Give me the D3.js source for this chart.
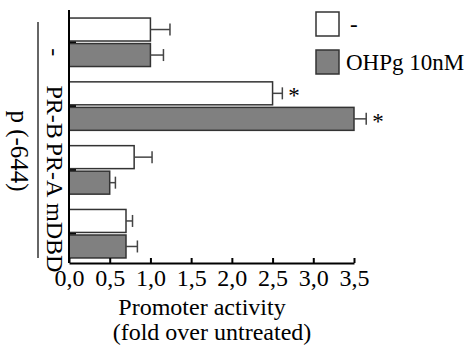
<!DOCTYPE html>
<html>
<head>
<meta charset="utf-8">
<script src="https://cdn.jsdelivr.net/npm/d3@7/dist/d3.min.js"></script>
<style>
  html, body { margin: 0; padding: 0; background: #fff; }
  svg { display: block; }
  text { font-family: "Liberation Serif", "Times New Roman", serif; fill: #000; }
</style>
</head>
<body>
<script>
// Constructs (one group of bars each) and treatments
const categories = ["-", "PR-B", "PR-A", "mDBD"];
const series = ["-", "OHPg 10nM"];

// Promoter activity (fold over untreated) per construct, untreated / OHPg
const valuesUntreated = [1.0, 2.5, 0.8, 0.7];
const valuesOHPg      = [1.0, 3.5, 0.5, 0.7];
const errUntreated    = [0.24, 0.12, 0.22, 0.08];
const errOHPg         = [0.16, 0.15, 0.07, 0.14];
const signifUntreated = [false, true, false, false];
const signifOHPg      = [false, true, false, false];

const xTickValues = [0, 0.5, 1.0, 1.5, 2.0, 2.5, 3.0, 3.5];
const xTickLabels = ["0,0", "0,5", "1,0", "1,5", "2,0", "2,5", "3,0", "3,5"];

const groupLabel = "p (-644)";
const xTitle1 = "Promoter activity";
const xTitle2 = "(fold over untreated)";

const fills = ["#ffffff", "#808080"];

const W = 468, H = 345;
const svg = d3.select("body").append("svg").attr("width", W).attr("height", H);

const axisTop = 10, axisBottom = 263;
const x = d3.scaleLinear().domain([0, 3.5]).range([69, 354]);
const y = d3.scaleBand().domain(categories).range([10, 266])
  .paddingInner(0.24).paddingOuter(0.126);
const ySub = d3.scaleBand().domain(series).range([0, y.bandwidth()]).paddingInner(0.1);

const rows = categories.map((c, i) => [
  { cat: c, s: series[0], v: valuesUntreated[i], e: errUntreated[i], sig: signifUntreated[i], fill: fills[0] },
  { cat: c, s: series[1], v: valuesOHPg[i], e: errOHPg[i], sig: signifOHPg[i], fill: fills[1] }
]).flat();

// category ticks on the value axis (point inward, partly hidden by bars)
const yAxis = d3.axisLeft(y).tickSizeInner(-7).tickSizeOuter(0).tickFormat("");
const gy = svg.append("g").attr("transform", `translate(${x(0)},0)`).call(yAxis);
gy.select(".domain").remove();
gy.selectAll(".tick line").attr("stroke", "#000").attr("stroke-width", 2.2);

// bars
svg.append("g").selectAll("rect").data(rows).join("rect")
  .attr("x", x(0))
  .attr("y", d => y(d.cat) + ySub(d.s))
  .attr("width", d => x(d.v) - x(0))
  .attr("height", ySub.bandwidth())
  .attr("fill", d => d.fill)
  .attr("stroke", "#333")
  .attr("stroke-width", 1.5);

// error bars
const eb = svg.append("g").attr("stroke", "#444").attr("stroke-width", 1.5);
rows.forEach(d => {
  const cy = y(d.cat) + ySub(d.s) + ySub.bandwidth() / 2;
  eb.append("line").attr("x1", x(d.v)).attr("x2", x(d.v + d.e)).attr("y1", cy).attr("y2", cy);
  eb.append("line").attr("x1", x(d.v + d.e)).attr("x2", x(d.v + d.e)).attr("y1", cy - 6).attr("y2", cy + 6);
});

// significance marks
svg.append("g").selectAll("text").data(rows.filter(d => d.sig)).join("text")
  .attr("x", d => x(d.v + d.e) + 6)
  .attr("y", d => y(d.cat) + ySub(d.s) + ySub.bandwidth() / 2 + 10)
  .attr("font-size", 23)
  .text("*");

// axis lines
svg.append("line").attr("x1", x(0)).attr("x2", x(0)).attr("y1", axisTop).attr("y2", axisBottom)
  .attr("stroke", "#000").attr("stroke-width", 2);

const xAxis = d3.axisBottom(x).tickValues(xTickValues)
  .tickFormat((d, i) => xTickLabels[i]).tickSizeInner(-5).tickSizeOuter(0).tickPadding(6);
const gx = svg.append("g").attr("transform", `translate(0,${axisBottom})`).call(xAxis);
gx.select(".domain").attr("stroke", "#000").attr("stroke-width", 2);
gx.selectAll(".tick line").attr("stroke", "#000").attr("stroke-width", 2);
gx.selectAll(".tick text").attr("font-size", 24)
  .attr("font-family", "'Liberation Serif', 'Times New Roman', serif").attr("fill", "#000");

// construct labels, rotated
const labelNudge = { "-": 10, "PR-B": 6, "mDBD": 4 };
svg.append("g").selectAll("text").data(categories).join("text")
  .attr("transform", d => `translate(47,${y(d) + y.bandwidth() / 2 + (labelNudge[d] || 0)}) rotate(90)`)
  .attr("text-anchor", "middle")
  .attr("font-size", 24)
  .text(d => d);

// bracket line and promoter label
svg.append("line").attr("x1", 38).attr("x2", 38).attr("y1", 22).attr("y2", 258)
  .attr("stroke", "#333").attr("stroke-width", 1.5);
svg.append("text")
  .attr("transform", `translate(11,151) rotate(90)`)
  .attr("text-anchor", "middle")
  .attr("font-size", 25)
  .text(groupLabel);

// axis title
svg.append("text").attr("x", 202).attr("y", 315).attr("text-anchor", "middle")
  .attr("font-size", 24).text(xTitle1);
svg.append("text").attr("x", 212).attr("y", 340).attr("text-anchor", "middle")
  .attr("font-size", 24).text(xTitle2);

// legend
const lg = svg.append("g");
series.forEach((s, i) => {
  const ly = 12 + i * 38;
  lg.append("rect").attr("x", 316).attr("y", ly).attr("width", 23).attr("height", 24)
    .attr("fill", fills[i]).attr("stroke", "#333").attr("stroke-width", 1.5);
  lg.append("text").attr("x", i === 0 ? 350 : 346).attr("y", ly + 20)
    .attr("font-size", 23).text(s);
});
</script>
</body>
</html>
